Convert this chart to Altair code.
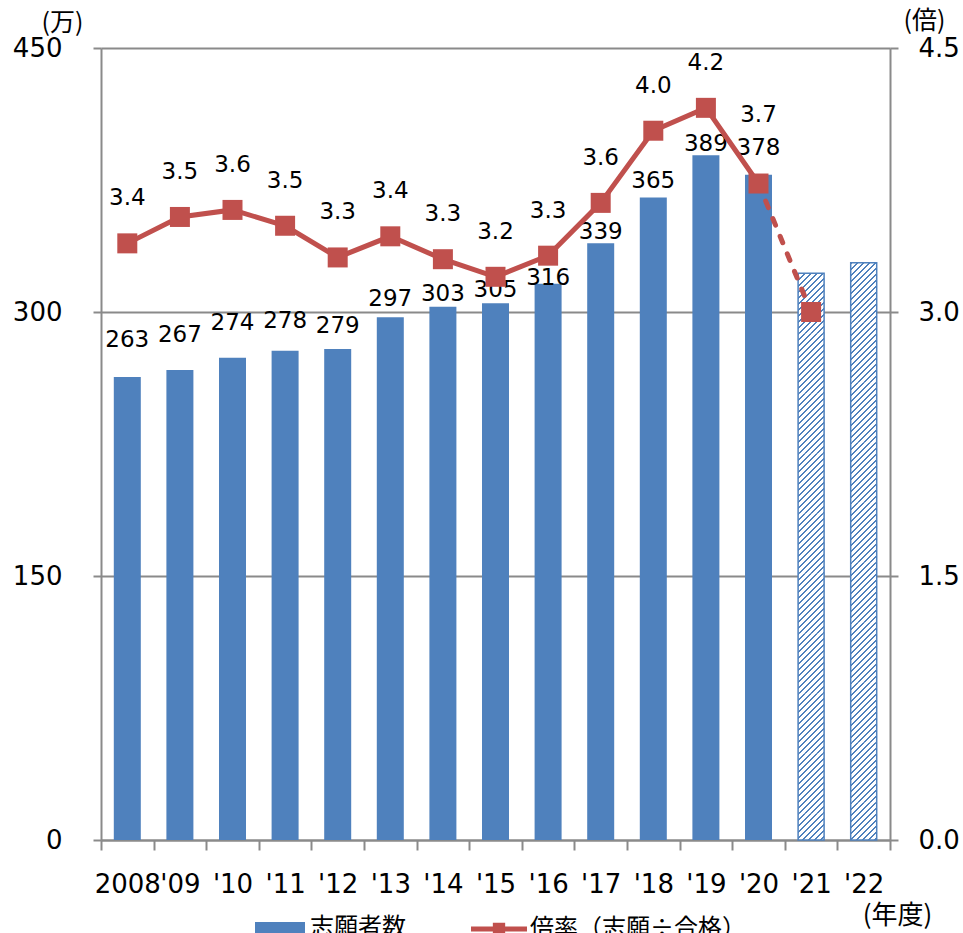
import altair as alt
import pandas as pd

# ---- data -------------------------------------------------------------
years = ["2008", "'09", "'10", "'11", "'12", "'13", "'14", "'15",
         "'16", "'17", "'18", "'19", "'20", "'21", "'22"]
applicants = [263, 267, 274, 278, 279, 297, 303, 305, 316, 339, 365, 389, 378, 322, 328]
ratio = [3.39, 3.54, 3.58, 3.49, 3.31, 3.43, 3.30, 3.20, 3.32, 3.62, 4.03, 4.16, 3.73, 3.00, None]
estimate_years = ["'21", "'22"]      # drawn hatched / dashed
last_actual_year = "'20"

# ---- label placement (pixels above each mark) ---------------------------
bar_label_lift = [37, 35, 35, 30, 23, 18, 13, 13, 6, 11, 17, 11, 27]
ratio_label_lift = [45] * 12 + [69]

# ---- styling ------------------------------------------------------------
BLUE = "#4F81BD"
RED = "#C0504D"
GRAY = "#8a8a8a"
NUM_FONT = "DejaVu Sans"
JP_FONT = "Noto Sans CJK JP"
PLOT_W, PLOT_H = 789, 792
LEFT_MAX, RIGHT_MAX = 450, 4.5
px_left = PLOT_H / LEFT_MAX
px_right = PLOT_H / RIGHT_MAX
split = years.index(last_actual_year)

rows = []
for i, yr in enumerate(years):
    rows.append({
        "year": yr,
        "idx": i,
        "applicants": applicants[i],
        "ratio": ratio[i],
        "estimate": yr in estimate_years,
        "bar_lift": bar_label_lift[i] if i < len(bar_label_lift) else None,
        "ratio_lift": ratio_label_lift[i] if i < len(ratio_label_lift) else None,
    })
df = pd.DataFrame(rows)

# ---- diagonal hatch -----------------------------------------------------
# The estimated bars are filled with short stacked tiles (clipped at the
# axis), each carrying the same hard-stop gradient so the stripes line up.
BAR_W = 26
STRIPE = 6                     # horizontal stripe spacing in px
TILE_PX = STRIPE * 10          # tile height, a whole number of stripes
tile_units = TILE_PX / px_left

tiles = []
for yr, v in zip(years, applicants):
    if yr not in estimate_years:
        continue
    top = v
    while top > 0:
        tiles.append({"year": yr, "tile_top": top, "tile_bottom": top - tile_units})
        top -= tile_units
tiles_df = pd.DataFrame(tiles)

w, h = BAR_W, TILE_PX
a = w / h
s = (w + h) / (h * (1 + a * a))
period = STRIPE / (w + h)
stops = []
k = 0
while k * period < 1:
    t0 = k * period
    t1 = min(t0 + 0.4 * period, 1)
    t2 = min(t0 + period, 1)
    stops += [alt.GradientStop(offset=round(t0, 5), color=BLUE),
              alt.GradientStop(offset=round(t1, 5), color=BLUE),
              alt.GradientStop(offset=round(t1, 5), color="white"),
              alt.GradientStop(offset=round(t2, 5), color="white")]
    k += 1
hatch = alt.LinearGradient(gradient="linear", stops=stops, x1=0, y1=0, x2=a * s, y2=s)

# ---- scales & axes ------------------------------------------------------
x_enc = alt.X(
    "year:N",
    scale=alt.Scale(domain=years, paddingInner=0, paddingOuter=0),
    axis=alt.Axis(
        title="(年度)", titleFont=JP_FONT, titleFontSize=26, titleFontWeight="normal",
        titleColor="black", titleAngle=0, titleAlign="center", titleBaseline="middle",
        titleX=796, titleY=75,
        labelFont=NUM_FONT, labelFontSize=26, labelColor="black", labelAngle=0,
        labelPadding=21, labelOverlap=False, labelBaseline="top",
        tickBand="extent", tickSize=10, tickColor=GRAY, tickWidth=2,
        domainColor=GRAY, domainWidth=2, grid=False,
    ),
)

left_scale = alt.Scale(domain=[0, LEFT_MAX], nice=False, zero=True)
left_axis = alt.Axis(
    values=[0, 150, 300, 450], format="d", orient="left",
    title="(万)", titleFont=JP_FONT, titleFontSize=25, titleFontWeight="normal",
    titleColor="black", titleAngle=0, titleAlign="center", titleBaseline="middle",
    titleX=-39, titleY=-26,
    labelFont=NUM_FONT, labelFontSize=26, labelColor="black", labelPadding=31,
    tickSize=8, tickColor=GRAY, tickWidth=2,
    domainColor=GRAY, domainWidth=2,
    grid=True, gridColor=GRAY, gridWidth=2,
)
right_scale = alt.Scale(domain=[0, RIGHT_MAX], nice=False, zero=True)
right_axis = alt.Axis(
    values=[0, 1.5, 3.0, 4.5], format=".1f", orient="right",
    title="(倍)", titleFont=JP_FONT, titleFontSize=25, titleFontWeight="normal",
    titleColor="black", titleAngle=0, titleAlign="center", titleBaseline="middle",
    titleX=34, titleY=-28,
    labelFont=NUM_FONT, labelFontSize=26, labelColor="black", labelPadding=20,
    tickSize=8, tickColor=GRAY, tickWidth=2,
    domainColor=GRAY, domainWidth=2, grid=False,
)

base = alt.Chart(df).encode(x=x_enc)

# ---- applicants (left axis) --------------------------------------------
bars = base.transform_filter("!datum.estimate").transform_calculate(
    series="'志願者数'"
).mark_bar(size=27).encode(
    y=alt.Y("applicants:Q", scale=left_scale, axis=left_axis),
    color=alt.Color(
        "series:N",
        scale=alt.Scale(domain=["志願者数"], range=[BLUE]),
        legend=alt.Legend(
            orient="none", legendX=154, legendY=855, direction="horizontal",
            title=None, padding=0, symbolType="M-1,-0.24H1V0.24H-1Z", symbolSize=2500,
            symbolStrokeWidth=0, symbolOpacity=1, labelFont=JP_FONT, labelFontSize=24,
            labelColor="black", labelOffset=5, labelLimit=0,
        ),
    ),
)

hatch_tiles = alt.Chart(tiles_df).mark_bar(size=BAR_W, fill=hatch, clip=True).encode(
    x=x_enc,
    y=alt.Y("tile_top:Q", scale=left_scale, axis=left_axis),
    y2="tile_bottom:Q",
)

hatch_outline = base.transform_filter("datum.estimate").mark_bar(
    size=BAR_W, fillOpacity=0, stroke=BLUE, strokeWidth=1.5
).encode(y=alt.Y("applicants:Q", scale=left_scale, axis=left_axis))

bar_labels = base.transform_filter("!datum.estimate").transform_calculate(
    label_y=f"datum.applicants + datum.bar_lift / {px_left}"
).mark_text(font=NUM_FONT, fontSize=23, color="black", baseline="middle").encode(
    y=alt.Y("label_y:Q", scale=left_scale, axis=left_axis),
    text=alt.Text("applicants:Q", format="d"),
)

left = alt.layer(bars, hatch_tiles, hatch_outline, bar_labels)

# ---- ratio (right axis) -------------------------------------------------
y_ratio = alt.Y("ratio:Q", scale=right_scale, axis=right_axis)

line_actual = base.transform_filter(f"datum.idx <= {split}").mark_line(
    color=RED, strokeWidth=5
).encode(y=y_ratio)

line_estimate = base.transform_filter(
    f"datum.idx >= {split} && datum.ratio != null"
).mark_line(color=RED, strokeWidth=5, strokeDash=[7, 12], strokeCap="round").encode(y=y_ratio)

markers = base.transform_filter("datum.ratio != null").transform_calculate(
    series="'倍率（志願÷合格）'"
).mark_point(shape="square", filled=True, size=400, opacity=1).encode(
    y=y_ratio,
    fill=alt.Fill(
        "series:N",
        scale=alt.Scale(domain=["倍率（志願÷合格）"], range=[RED]),
        legend=alt.Legend(
            orient="none", legendX=370, legendY=853, direction="horizontal",
            title=None, padding=0,
            symbolType="M-1,-0.09H1V0.09H-1Z M-0.22,-0.22H0.22V0.22H-0.22Z",
            symbolSize=3136, symbolStrokeWidth=0, symbolOpacity=1,
            labelFont=JP_FONT, labelFontSize=24, labelColor="black", labelOffset=3,
            labelLimit=0,
        ),
    ),
)

ratio_labels = base.transform_filter(f"datum.idx <= {split}").transform_calculate(
    label_y=f"datum.ratio + datum.ratio_lift / {px_right}"
).mark_text(font=NUM_FONT, fontSize=23, color="black", baseline="middle").encode(
    y=alt.Y("label_y:Q", scale=right_scale, axis=right_axis),
    text=alt.Text("ratio:Q", format=".1f"),
)

right = alt.layer(line_actual, line_estimate, markers, ratio_labels)

chart = alt.layer(left, right).resolve_scale(
    y="independent", color="independent", fill="independent"
).properties(
    width=PLOT_W,
    height=PLOT_H,
    autosize=alt.AutoSizeParams(type="none"),
    padding={"left": 101, "top": 48, "right": 73, "bottom": 93},
    background="white",
).configure_view(stroke=None)

chart.save("out.html", embed_options={"renderer": "svg", "actions": False})
